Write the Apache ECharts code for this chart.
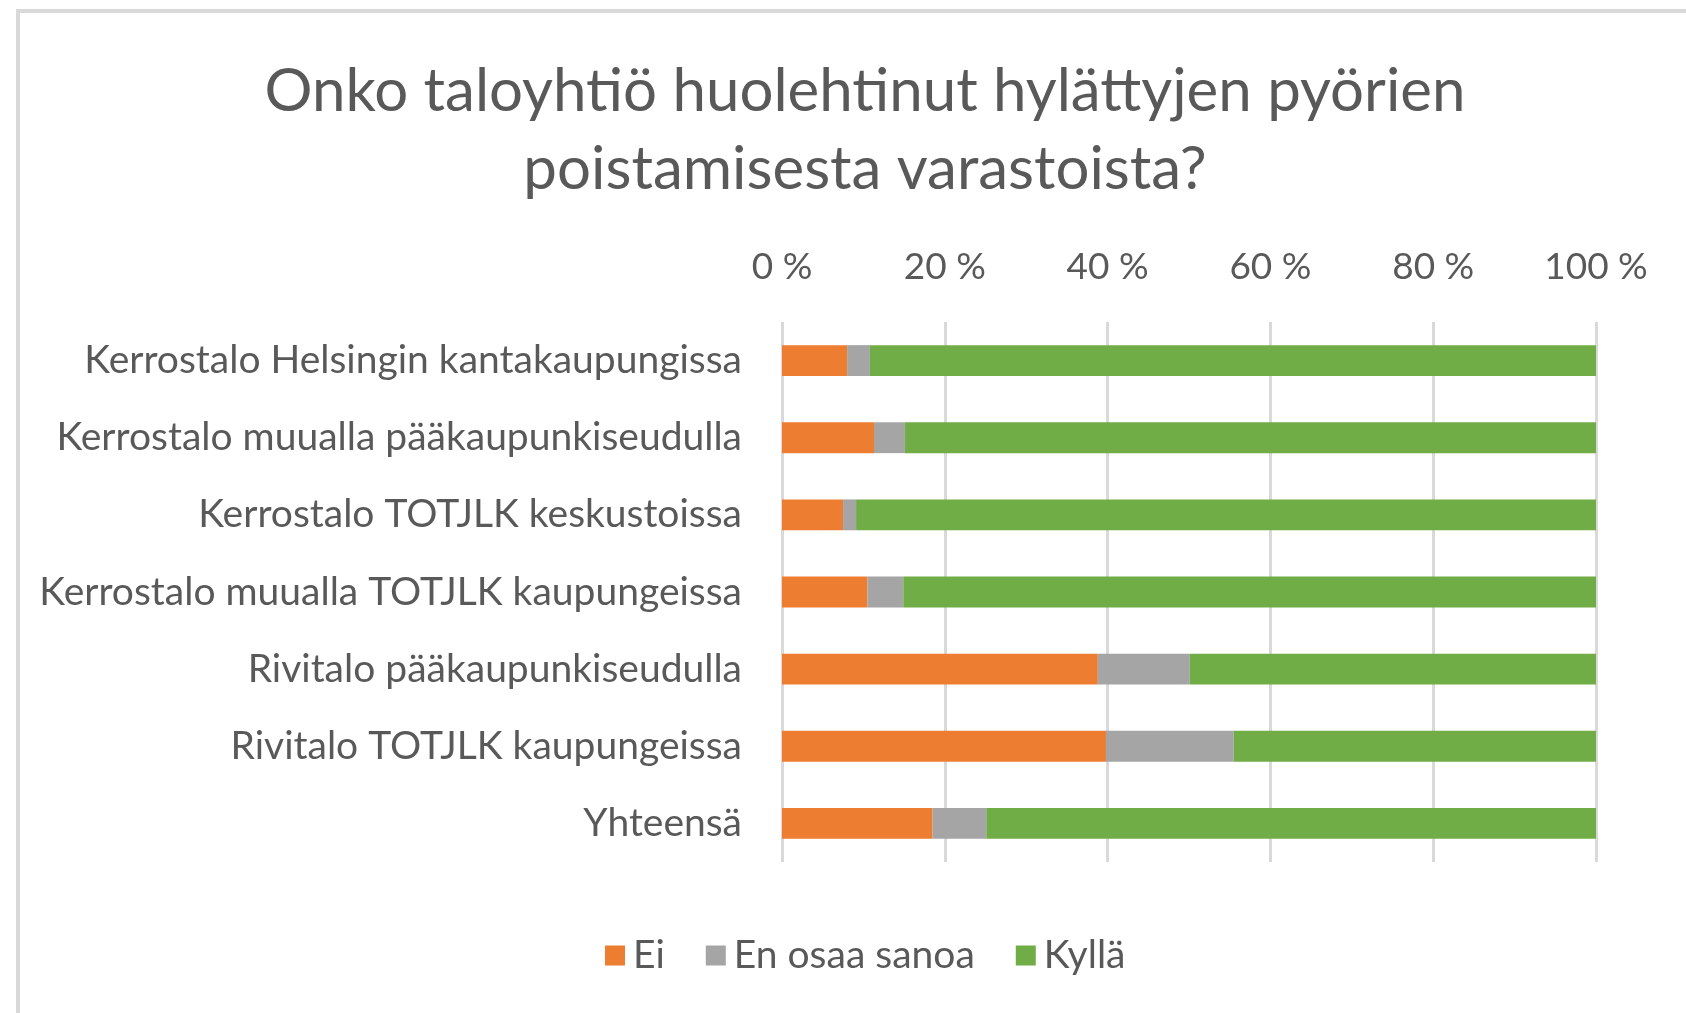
<!DOCTYPE html>
<html>
<head>
<meta charset="utf-8">
<script src="https://cdn.jsdelivr.net/npm/echarts@6/dist/echarts.min.js"></script>
<style>
  html, body { margin: 0; padding: 0; background: #fff; overflow: hidden; }
  #frame {
    position: absolute; left: 16px; top: 9px;
    width: 1720px; height: 1040px;
    border: 4px solid #d9d9d9; box-sizing: border-box;
  }
  #chart { position: absolute; left: 0; top: 0; width: 1686px; height: 1013px; }
</style>
</head>
<body>
<div id="frame"></div>
<div id="chart"></div>
<script>
  var categories = [
    'Kerrostalo Helsingin kantakaupungissa',
    'Kerrostalo muualla pääkaupunkiseudulla',
    'Kerrostalo TOTJLK keskustoissa',
    'Kerrostalo muualla TOTJLK kaupungeissa',
    'Rivitalo pääkaupunkiseudulla',
    'Rivitalo TOTJLK kaupungeissa',
    'Yhteensä'
  ];
  var ei = [8.0, 11.3, 7.5, 10.5, 38.8, 39.8, 18.5];
  var enOsaa = [2.8, 3.8, 1.6, 4.4, 11.3, 15.7, 6.6];
  var kylla = [89.2, 84.9, 90.9, 85.1, 49.9, 44.5, 74.9];
  var seriesNames = ['Ei', 'En osaa sanoa', 'Kyllä'];
  var xTicks = [0, 20, 40, 60, 80, 100];

  var font = 'Lato, "Open Sans", sans-serif';
  var textColor = '#595959';

  var chartDom = document.getElementById('chart');
  var myChart = echarts.init(chartDom);
  var option;

  option = {
    animation: false,
    title: {
      text: 'Onko taloyhtiö huolehtinut hylättyjen pyörien\npoistamisesta varastoista?',
      left: 860,
      top: 48,
      textAlign: 'center',
      textStyle: {
        fontFamily: font,
        fontWeight: 'normal',
        fontSize: 60,
        lineHeight: 78,
        color: textColor
      }
    },
    legend: {
      data: seriesNames,
      left: 600,
      top: 931,
      icon: 'rect',
      itemWidth: 20,
      itemHeight: 20,
      itemGap: 41,
      textStyle: {
        fontFamily: font,
        fontSize: 39,
        color: textColor,
        padding: [0, 0, 0, 3]
      }
    },
    grid: {
      left: 782,
      right: 90,
      top: 322,
      bottom: 151
    },
    xAxis: {
      type: 'value',
      position: 'top',
      min: xTicks[0],
      max: xTicks[xTicks.length - 1],
      interval: 20,
      axisLine: { show: false },
      axisTick: { show: false },
      axisLabel: {
        margin: 36,
        fontFamily: font,
        fontSize: 37,
        color: textColor,
        formatter: '{value} %'
      },
      splitLine: {
        show: true,
        lineStyle: { color: '#d9d9d9', width: 3 }
      }
    },
    yAxis: {
      type: 'category',
      inverse: true,
      data: categories,
      axisLine: { show: false },
      axisTick: { show: false },
      axisLabel: {
        margin: 40,
        fontFamily: font,
        fontSize: 39,
        color: textColor
      }
    },
    series: [
      { name: seriesNames[0], type: 'bar', stack: 'total', barWidth: '40%', itemStyle: { color: '#ED7D31' }, data: ei },
      { name: seriesNames[1], type: 'bar', stack: 'total', barWidth: '40%', itemStyle: { color: '#A5A5A5' }, data: enOsaa },
      { name: seriesNames[2], type: 'bar', stack: 'total', barWidth: '40%', itemStyle: { color: '#70AD47' }, data: kylla }
    ]
  };

  option && myChart.setOption(option);
</script>
</body>
</html>
